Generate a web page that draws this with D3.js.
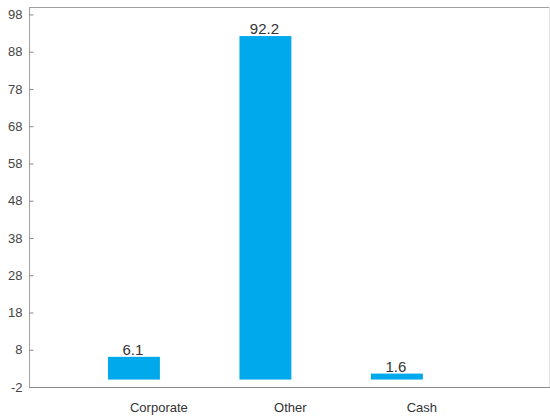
<!DOCTYPE html>
<html>
<head>
<meta charset="utf-8">
<script src="https://cdn.jsdelivr.net/npm/d3@7"></script>
<style>
  html, body { margin: 0; padding: 0; background: #fff; }
  svg { display: block; font-family: "Liberation Sans", Arial, sans-serif; }
</style>
</head>
<body>
<svg id="chart" width="550" height="419"></svg>
<script>
const categories = ["Corporate", "Other", "Cash"];
const values = [6.1, 92.2, 1.6];
const valueLabels = ["6.1", "92.2", "1.6"];
const yTicks = [-2, 8, 18, 28, 38, 48, 58, 68, 78, 88, 98];

(function () {
const svg = d3.select("#chart");
const pLeft = 29, pRight = 549, pTop = 7, pBottom = 387;

const y = d3.scaleLinear().domain([-2, 100]).range([pBottom, pTop]);
const x = d3.scaleBand().domain(categories).range([pLeft, pRight])
  .paddingInner(0.605).paddingOuter(0.78).align(0.385);

// frame
svg.append("rect").attr("x", pLeft + 0.5).attr("y", pTop + 0.5)
  .attr("width", pRight - pLeft).attr("height", pBottom - pTop)
  .attr("fill", "none").attr("stroke", "#a0a0a0").attr("stroke-width", 1);
svg.append("line").attr("x1", pRight + 0.5).attr("x2", pRight + 0.5)
  .attr("y1", pTop).attr("y2", pBottom).attr("stroke", "#e4e4e4");
svg.append("line").attr("x1", pLeft).attr("x2", pRight + 1)
  .attr("y1", pBottom + 0.5).attr("y2", pBottom + 0.5).attr("stroke", "#8a8a8a");

// y axis (ticks inward)
const yAxis = d3.axisLeft(y).tickValues(yTicks).tickSize(-4).tickPadding(7)
  .tickFormat(d => String(d));
const gy = svg.append("g").attr("transform", `translate(${pLeft + 0.5},0)`).call(yAxis);
gy.select(".domain").remove();
gy.selectAll(".tick line").attr("stroke", "#888");
gy.selectAll(".tick text").attr("fill", "#444").style("font-size", "13px");

// bars
svg.selectAll("rect.bar").data(categories).enter().append("rect")
  .attr("class", "bar")
  .attr("x", d => x(d))
  .attr("width", x.bandwidth())
  .attr("y", (d, i) => y(values[i]))
  .attr("height", (d, i) => y(0) - y(values[i]))
  .attr("fill", "#00A9EC");

// value labels
svg.selectAll("text.val").data(categories).enter().append("text")
  .attr("class", "val")
  .attr("x", d => x(d) + x.bandwidth() / 2 - 1)
  .attr("y", (d, i) => y(values[i]) - 2)
  .attr("text-anchor", "middle")
  .attr("fill", "#333")
  .style("font-size", "15px")
  .text((d, i) => valueLabels[i]);

// category labels
svg.selectAll("text.cat").data(categories).enter().append("text")
  .attr("class", "cat")
  .attr("x", d => x(d) + x.bandwidth() - 1)
  .attr("y", 412)
  .attr("text-anchor", "middle")
  .attr("fill", "#333")
  .style("font-size", "13px")
  .text(d => d);
})();
</script>
</body>
</html>
